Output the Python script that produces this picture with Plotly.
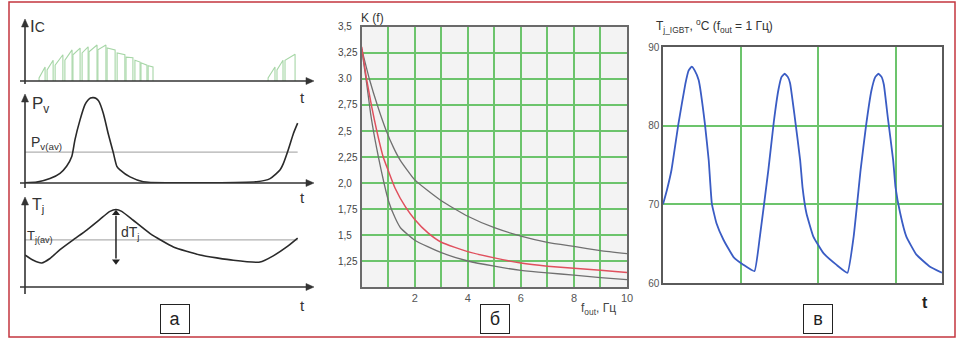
import plotly.graph_objects as go

W, H = 959, 338
def PX(px): return px / W
def PY(py): return 1 - py / H

# ---------------- Panel a data (arbitrary time units 0..100, normalised values) -------------
pulse_t0 = [4.9, 7.7, 10.5, 13.9, 16.7, 19.9, 22.3, 25.4, 28.6, 32.1, 35.2, 38.3, 40.4, 42.9, 84.7, 87.8, 90.6]
pulse_t1 = [7.0, 9.8, 13.2, 16.4, 19.2, 22.0, 25.1, 28.2, 31.4, 34.8, 37.6, 40.1, 42.5, 44.6, 87.1, 89.9, 94.1]
pulse_h0 = [0.05, 0.18, 0.26, 0.34, 0.43, 0.46, 0.48, 0.51, 0.54, 0.46, 0.39, 0.34, 0.30, 0.25, 0.05, 0.18, 0.34]
pulse_h1 = [0.23, 0.34, 0.43, 0.51, 0.54, 0.56, 0.59, 0.59, 0.51, 0.43, 0.38, 0.31, 0.26, 0.23, 0.23, 0.34, 0.44]

pv_t = [0, 4.1, 8.7, 12.2, 14.5, 16.3, 17.4, 19.2, 20.9, 21.9, 22.8, 23.8, 24.8, 25.7, 27.3, 29.0, 30.8, 32.0,
        33.1, 36.6, 41.2, 49.4, 80.7, 85.4, 88.9, 90.0, 91.7, 93.5, 95.0]
pv_v = [0.003, 0.01, 0.05, 0.11, 0.19, 0.30, 0.49, 0.72, 0.89, 0.94, 0.965, 0.97, 0.96, 0.93, 0.79, 0.56, 0.34, 0.19,
        0.15, 0.07, 0.015, 0.003, 0.015, 0.05, 0.15, 0.22, 0.375, 0.56, 0.68]
pv_avg = 0.35

tj_t = [0, 2.9, 5.8, 8.7, 12.2, 16.8, 21.5, 26.1, 29.6, 31.7, 33.7, 37.7, 43.6, 51.7, 61.0, 72.6,
        81.9, 86.5, 91.2, 95.0]
tj_v = [0.36, 0.30, 0.27, 0.32, 0.42, 0.53, 0.64, 0.76, 0.85, 0.87, 0.85, 0.75, 0.60, 0.45, 0.36, 0.30,
        0.28, 0.35, 0.45, 0.55]
tj_avg = 0.53
dtj_t = 31.7
dtj_top, dtj_bot = 0.83, 0.29
avg_t = [0, 95]

# ---------------- Panel б data ----------------
f_up = [0, 0.3, 0.6, 0.9, 1.2, 1.45, 2, 3, 4, 5, 6, 7, 8, 9, 10]
k_up = [3.29, 2.99, 2.74, 2.52, 2.34, 2.22, 2.03, 1.83, 1.68, 1.57, 1.49, 1.43, 1.39, 1.35, 1.32]
f_red = [0, 0.19, 0.38, 0.56, 0.81, 1.0, 1.26, 1.65, 2.0, 2.5, 3, 4, 5, 6, 7, 8, 9, 10]
k_red = [3.31, 2.99, 2.73, 2.51, 2.25, 2.12, 1.95, 1.77, 1.65, 1.52, 1.43, 1.34, 1.28, 1.23, 1.20, 1.18, 1.16, 1.14]
f_low = [0, 0.19, 0.34, 0.5, 0.63, 0.84, 1.02, 1.25, 1.46, 2, 3, 4, 5, 6, 7, 8, 9, 10]
k_low = [3.29, 2.95, 2.66, 2.42, 2.25, 2.0, 1.82, 1.67, 1.57, 1.45, 1.33, 1.25, 1.20, 1.16, 1.135, 1.115, 1.09, 1.07]
k_ticks = [3.5, 3.25, 3.0, 2.75, 2.5, 2.25, 2.0, 1.75, 1.5, 1.25]
k_labels = ["3,5", "3,25", "3.0", "2,75", "2,5", "2,25", "2,0", "1,75", "1,5", "1,25"]
f_ticks = [2, 4, 6, 8, 10]
f_labels = ["2", "4", "6", "8", "10"]
f_minor = [1, 3, 5, 7, 9]

# ---------------- Panel в data ----------------
tt = [0, 0.05, 0.11, 0.2, 0.29, 0.33, 0.37, 0.41, 0.46, 0.54, 0.59, 0.63, 0.69, 0.78, 0.91, 1.04, 1.18,
      1.25, 1.36, 1.43, 1.49, 1.53, 1.57, 1.61, 1.64, 1.70, 1.77, 1.80, 1.85, 1.94, 2.07, 2.24, 2.38,
      2.46, 2.55, 2.62, 2.69, 2.74, 2.78, 2.82, 2.85, 2.90, 2.97, 3.0, 3.06, 3.14, 3.27, 3.44, 3.6]
temp = [70, 71.8, 74.4, 80.3, 85.4, 87.0, 87.5, 87.0, 85.8, 80.3, 75.6, 70.1, 67.6, 65.5, 63.3, 62.3, 61.5,
        65.9, 74.4, 80.5, 84.6, 86.2, 86.6, 86.2, 85.4, 81.1, 75.6, 72.2, 68.9, 65.9, 63.8, 62.3, 61.3,
        65.9, 74.4, 80.0, 84.5, 86.2, 86.6, 86.2, 85.2, 81.1, 75.6, 72.2, 68.9, 65.9, 63.6, 62.1, 61.3]
temp_ticks = [60, 70, 80, 90]
t_grid = [1, 2, 3]

FONT = "Arial, Liberation Sans, sans-serif"
GREEN = "#6cc46c"

fig = go.Figure()

# pulses
px_, py_ = [], []
for a, b, h0, h1 in zip(pulse_t0, pulse_t1, pulse_h0, pulse_h1):
    px_ += [a, a, b, b, None]
    py_ += [0, h0, h1, 0, None]
fig.add_trace(go.Scatter(x=px_, y=py_, mode="lines", line=dict(color="#a6d6a6", width=1.1),
                         xaxis="x", yaxis="y", hoverinfo="skip"))
# P_v
fig.add_trace(go.Scatter(x=avg_t, y=[pv_avg, pv_avg], mode="lines", line=dict(color="#b0b0b0", width=1.2),
                         xaxis="x", yaxis="y2"))
fig.add_trace(go.Scatter(x=pv_t, y=pv_v, mode="lines", line=dict(color="#2a2a2a", width=1.6, shape="spline", smoothing=0.6),
                         xaxis="x", yaxis="y2"))
# T_j
fig.add_trace(go.Scatter(x=avg_t, y=[tj_avg, tj_avg], mode="lines", line=dict(color="#b0b0b0", width=1.2),
                         xaxis="x", yaxis="y3"))
fig.add_trace(go.Scatter(x=tj_t, y=tj_v, mode="lines", line=dict(color="#2a2a2a", width=1.6, shape="spline", smoothing=0.5),
                         xaxis="x", yaxis="y3"))
# dT_j double arrow
fig.add_trace(go.Scatter(x=[dtj_t, dtj_t], y=[dtj_bot + 0.03, dtj_top - 0.03], mode="lines",
                         line=dict(color="#222", width=1.5), xaxis="x", yaxis="y3", hoverinfo="skip"))
fig.add_trace(go.Scatter(x=[dtj_t, dtj_t], y=[dtj_top, dtj_bot], mode="markers",
                         marker=dict(symbol=["triangle-up", "triangle-down"], size=7, color="#222"),
                         xaxis="x", yaxis="y3", hoverinfo="skip", cliponaxis=False))

# Panel б
fig.add_trace(go.Scatter(x=f_up, y=k_up, mode="lines", line=dict(color="#707070", width=1.3, shape="spline", smoothing=0.5),
                         xaxis="x2", yaxis="y4"))
fig.add_trace(go.Scatter(x=f_low, y=k_low, mode="lines", line=dict(color="#707070", width=1.3, shape="spline", smoothing=0.5),
                         xaxis="x2", yaxis="y4"))
fig.add_trace(go.Scatter(x=f_red, y=k_red, mode="lines", line=dict(color="#e0505e", width=1.5, shape="spline", smoothing=0.5),
                         xaxis="x2", yaxis="y4"))

# Panel в
fig.add_trace(go.Scatter(x=tt, y=temp, mode="lines", line=dict(color="#3a5cc4", width=1.8, shape="spline", smoothing=0.35),
                         xaxis="x3", yaxis="y5"))

hidden = dict(visible=False, fixedrange=True)
fig.update_layout(
    width=W, height=H, margin=dict(l=0, r=0, t=0, b=0, autoexpand=False),
    paper_bgcolor="white", plot_bgcolor="white", showlegend=False,
    font=dict(family=FONT, color="#333"),
    xaxis=dict(domain=[PX(25), PX(312)], range=[0, 100], **hidden),
    yaxis=dict(domain=[PY(81), PY(20)], range=[0, 1], anchor="x", **hidden),
    yaxis2=dict(domain=[PY(183), PY(95)], range=[0, 1], anchor="x", **hidden),
    yaxis3=dict(domain=[PY(287), PY(198)], range=[0, 1], anchor="x", **hidden),
    xaxis2=dict(domain=[PX(361.7), PX(627)], range=[0, 10], anchor="y4",
                tickmode="array", tickvals=f_ticks, ticktext=f_labels,
                minor=dict(tickmode="array", tickvals=f_minor, showgrid=True, gridcolor=GREEN, gridwidth=1.5, ticks=""),
                showgrid=True, gridcolor=GREEN, gridwidth=1.5, zeroline=False,
                showline=True, linecolor="#6a6a6a", linewidth=1.5, mirror=True,
                ticks="", tickfont=dict(size=11, color="#555"), fixedrange=True),
    yaxis4=dict(domain=[PY(287), PY(27)], range=[1, 3.5], anchor="x2",
                tickmode="array", tickvals=k_ticks, showticklabels=False,
                showgrid=True, gridcolor=GREEN, gridwidth=1.5, zeroline=False,
                showline=True, linecolor="#6a6a6a", linewidth=1.5, mirror=True, ticks="", fixedrange=True),
    xaxis3=dict(domain=[PX(663), PX(942)], range=[0, 3.6], anchor="y5",
                tickmode="array", tickvals=t_grid, showticklabels=False,
                showgrid=True, gridcolor=GREEN, gridwidth=1.5, zeroline=False,
                showline=True, linecolor="#5a5a5a", linewidth=1.5, mirror=True, ticks="", fixedrange=True),
    yaxis5=dict(domain=[PY(283), PY(47)], range=[60, 90], anchor="x3",
                tickmode="array", tickvals=temp_ticks,
                showgrid=True, gridcolor=GREEN, gridwidth=1.5, zeroline=False,
                showline=True, linecolor="#5a5a5a", linewidth=1.5, mirror=True, ticks="",
                tickfont=dict(size=10, color="#555"), fixedrange=True),
)

shapes = []
# red frame
shapes.append(dict(type="rect", xref="paper", yref="paper", x0=PX(9), x1=PX(955), y0=PY(337), y1=PY(2),
                   line=dict(color="#c4363f", width=1.5)))
# light background for panel б
shapes.append(dict(type="rect", xref="x2 domain", yref="y4 domain", x0=0, x1=1, y0=0, y1=1,
                   fillcolor="#f3f3f3", line=dict(width=0), layer="below"))

AX = "#333"
def axis_arrow(x0, y0, x1, y1):
    shapes.append(dict(type="line", xref="paper", yref="paper", x0=PX(x0), y0=PY(y0), x1=PX(x1), y1=PY(y1),
                       line=dict(color=AX, width=1.6)))
    if y0 == y1:   # pointing right
        pts = [(x1 + 2, y1), (x1 - 6, y1 - 3.5), (x1 - 6, y1 + 3.5)]
    else:          # pointing up
        pts = [(x1, y1 - 2), (x1 - 3.5, y1 + 6), (x1 + 3.5, y1 + 6)]
    path = "M " + " L ".join(f"{PX(a):.5f},{PY(b):.5f}" for a, b in pts) + " Z"
    shapes.append(dict(type="path", xref="paper", yref="paper", path=path,
                       fillcolor=AX, line=dict(color=AX, width=0.5)))

axis_arrow(20, 81, 312, 81)
axis_arrow(20, 183, 312, 183)
axis_arrow(20, 287, 312, 287)
axis_arrow(25, 84, 25, 21)
axis_arrow(25, 188, 25, 96)
axis_arrow(25, 294, 25, 199)
fig.update_layout(shapes=shapes)

ann = []
def label(text, px, py, size, xanchor="left", color="#333", family=FONT):
    ann.append(dict(xref="paper", yref="paper", x=PX(px), y=PY(py), text=text, showarrow=False,
                    xanchor=xanchor, yanchor="middle", font=dict(size=size, color=color, family=family)))

label("I<span style='font-size:14px'>C</span>", 28, 27, 17)
label("P<sub>v</sub>", 30, 105, 17)
label("P<sub>v(av)</sub>", 29, 143, 14)
label("T<sub>j</sub>", 30, 205, 16)
label("T<sub>j(av)</sub>", 25, 236, 13)
label("dT<sub>j</sub>", 119, 233, 14)
for yy in (98, 197, 305):
    label("t", 302, yy, 15, xanchor="center")

# panel б labels
label("K (f)", 359, 18, 12)
label("f<sub>out</sub>, Гц", 579, 309, 12, color="#444")
for v, s in zip(k_ticks, k_labels):
    ann.append(dict(xref="paper", yref="y4", x=PX(336), y=v, text=s, showarrow=False,
                    xanchor="left", yanchor="middle", font=dict(size=10, color="#444")))

# panel в labels
label("T<sub>j_IGBT</sub>, <sup>o</sup>C (f<sub>out</sub> = 1 Гц)", 654, 26, 12)
label("<b>t</b>", 925, 302, 16, xanchor="center", color="#222")

# boxed panel letters
for letter, cx in (("а", 174.5), ("б", 495), ("в", 817.5)):
    ann.append(dict(xref="paper", yref="paper", x=PX(cx), y=PY(318.5), text=letter, showarrow=False,
                    xanchor="center", yanchor="middle", width=26, height=26,
                    bordercolor="#222", borderwidth=1, bgcolor="white",
                    font=dict(size=18, color="#222", family="Liberation Sans Narrow, Arial Narrow, Arial")))

fig.update_layout(annotations=ann)
fig.write_html("out.html", config={"displayModeBar": False},
               post_script="document.body.style.margin='0';document.body.style.overflow='hidden';")
